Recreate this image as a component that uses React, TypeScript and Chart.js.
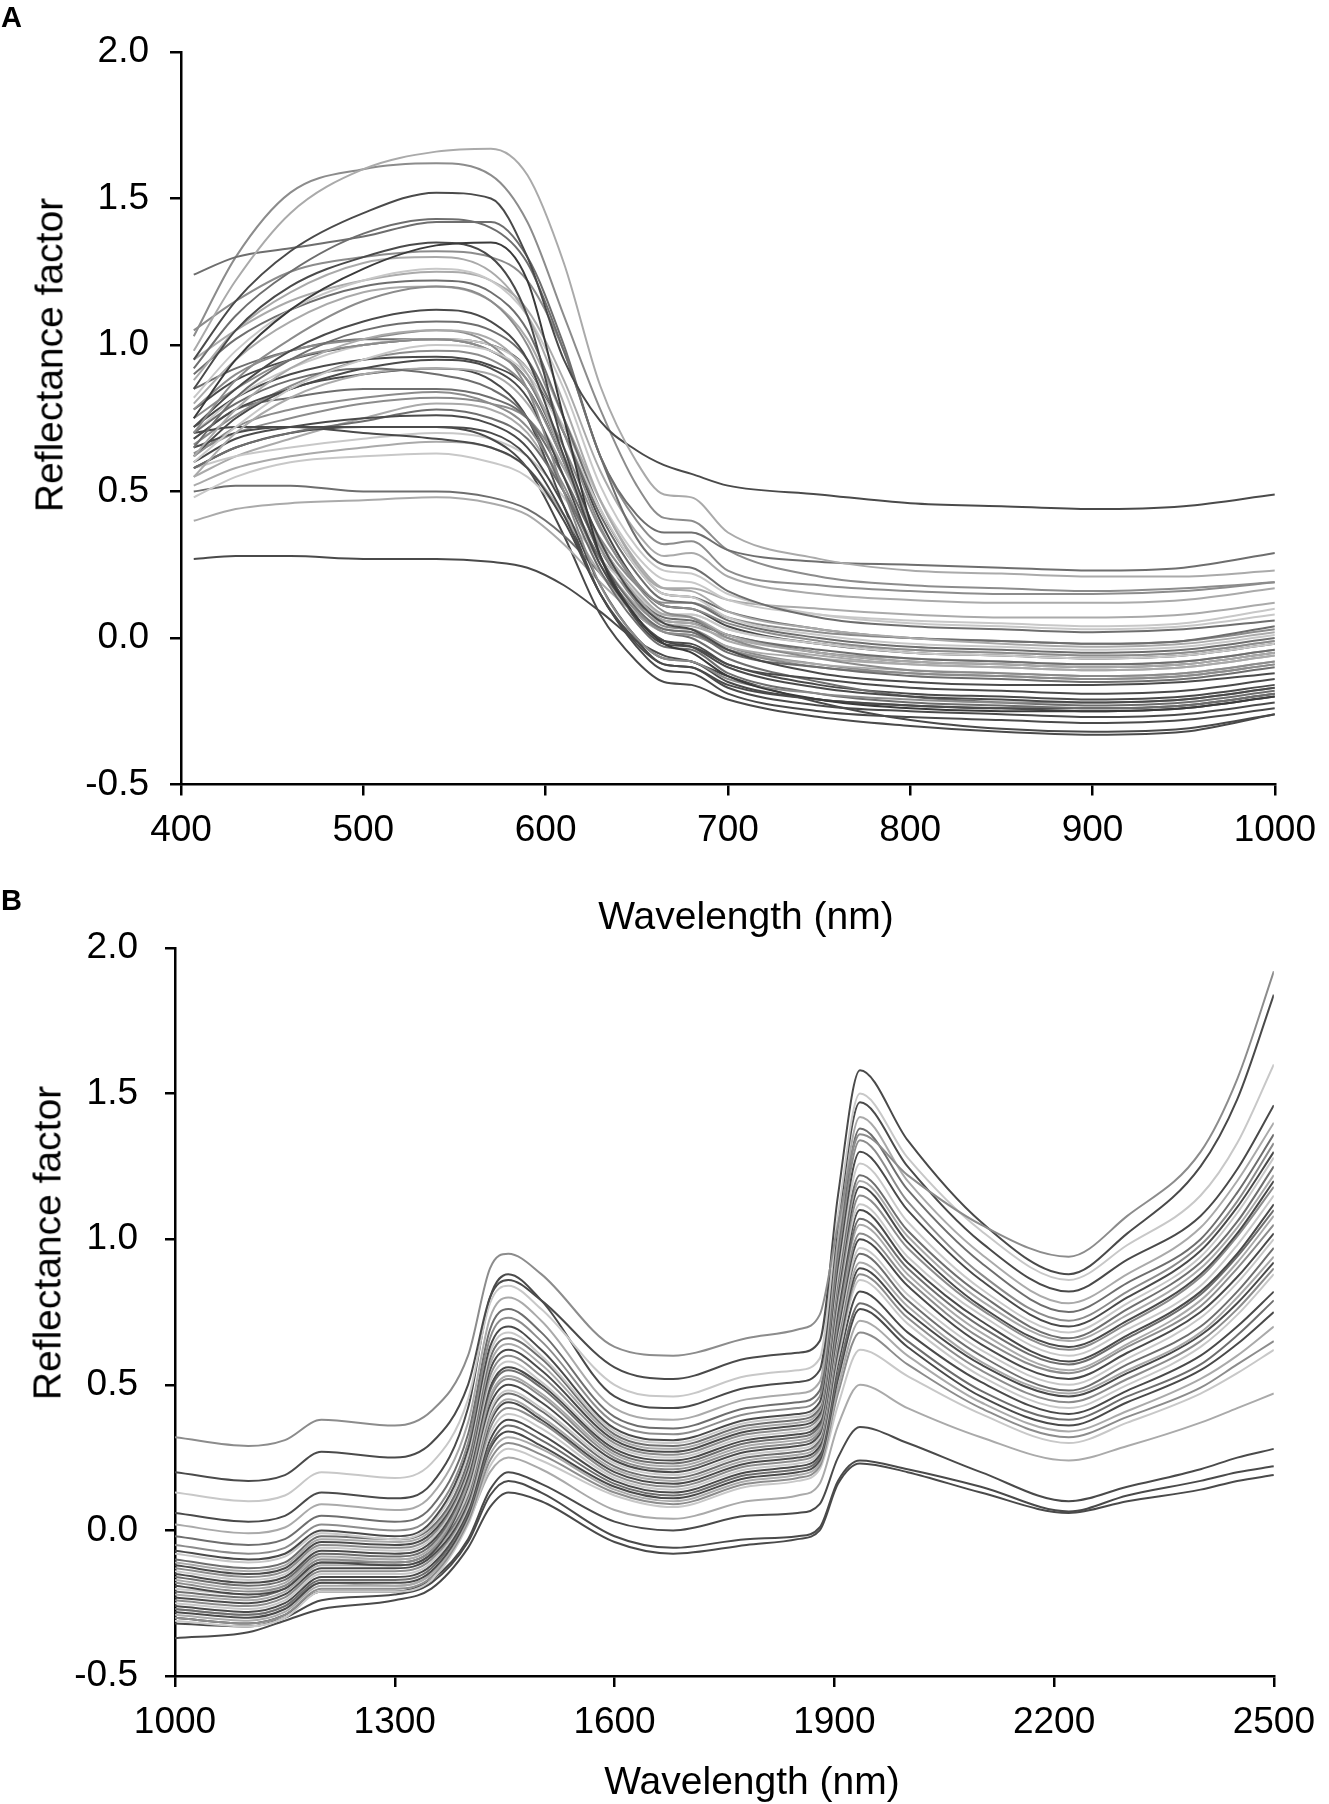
import React, { useEffect, useRef } from "react";
import { Chart, registerables } from "chart.js";

Chart.register(...registerables);

const FONT = '"Liberation Sans", Arial, Helvetica, sans-serif';

// ---------- axes / ticks ----------
const Y_TICKS = [-0.5, 0, 0.5, 1.0, 1.5, 2.0];
const X_TICKS_A = [400, 500, 600, 700, 800, 900, 1000];
const X_TICKS_B = [1000, 1300, 1600, 1900, 2200, 2500];

// ---------- wavelengths (nm) at which the spectra were read ----------
const WL_A = [407, 430, 460, 500, 540, 570, 590, 610, 630, 650, 665, 680, 700, 750, 800, 850, 900, 950, 1000];
const WL_B = [1000, 1100, 1150, 1200, 1300, 1350, 1400, 1430, 1455, 1500, 1600, 1680, 1780, 1850, 1880, 1905, 1935, 2000, 2100, 2220, 2300, 2400, 2450, 2500];

// ---------- grey levels ----------
const D = "#4a4a4a";
const M = "#6e6e6e";
const G = "#8c8c8c";
const L = "#aaaaaa";
const V = "#c8c8c8";

// ---------- panel A spectra (400–1000 nm) ----------
const a01 = [0.98, 1.22, 1.45, 1.6, 1.66, 1.67, 1.58, 1.28, 0.86, 0.6, 0.49, 0.48, 0.36, 0.27, 0.23, 0.22, 0.21, 0.21, 0.23];
const a02 = [0.95, 1.15, 1.32, 1.45, 1.52, 1.5, 1.3, 0.95, 0.74, 0.64, 0.59, 0.56, 0.52, 0.49, 0.46, 0.45, 0.44, 0.45, 0.49];
const a03 = [1.24, 1.3, 1.33, 1.37, 1.42, 1.42, 1.3, 1.0, 0.62, 0.42, 0.36, 0.36, 0.3, 0.26, 0.25, 0.24, 0.23, 0.24, 0.29];
const a04 = [1.03, 1.3, 1.52, 1.6, 1.62, 1.58, 1.42, 1.1, 0.78, 0.52, 0.41, 0.4, 0.3, 0.21, 0.18, 0.17, 0.16, 0.17, 0.19];
const a05 = [0.75, 0.95, 1.12, 1.26, 1.34, 1.35, 1.22, 0.75, 0.28, 0.07, -0.02, -0.05, -0.13, -0.21, -0.24, -0.25, -0.25, -0.24, -0.2];
const a06 = [0.85, 1.05, 1.2, 1.3, 1.35, 1.3, 1.1, 0.65, 0.33, 0.13, 0.05, 0.03, -0.04, -0.12, -0.15, -0.16, -0.16, -0.15, -0.12];
const a07 = [0.92, 1.1, 1.25, 1.38, 1.43, 1.4, 1.28, 0.98, 0.62, 0.34, 0.25, 0.24, 0.16, 0.07, 0.04, 0.03, 0.02, 0.03, 0.06];
const a08 = [0.88, 1.05, 1.18, 1.28, 1.3, 1.25, 1.1, 0.8, 0.47, 0.26, 0.17, 0.16, 0.09, 0.03, 0.0, -0.02, -0.03, -0.02, 0.02];
const a09 = [0.82, 0.98, 1.12, 1.22, 1.26, 1.22, 1.1, 0.85, 0.52, 0.31, 0.23, 0.22, 0.15, 0.08, 0.05, 0.04, 0.03, 0.04, 0.08];
const a10 = [0.7, 0.88, 1.02, 1.15, 1.2, 1.15, 1.0, 0.7, 0.38, 0.18, 0.09, 0.07, 0.0, -0.07, -0.11, -0.12, -0.13, -0.12, -0.08];
const a11 = [0.72, 0.85, 0.98, 1.08, 1.12, 1.08, 0.95, 0.62, 0.28, 0.07, -0.01, -0.03, -0.1, -0.17, -0.2, -0.21, -0.22, -0.21, -0.17];
const a12 = [0.65, 0.82, 0.95, 1.05, 1.08, 1.05, 0.95, 0.7, 0.42, 0.22, 0.13, 0.12, 0.06, 0.0, -0.03, -0.04, -0.05, -0.04, 0.0];
const a13 = [0.62, 0.78, 0.92, 1.02, 1.05, 1.02, 0.9, 0.62, 0.33, 0.14, 0.06, 0.05, -0.01, -0.06, -0.09, -0.1, -0.11, -0.1, -0.06];
const a14 = [0.6, 0.72, 0.85, 0.95, 1.0, 0.98, 0.9, 0.7, 0.44, 0.24, 0.15, 0.14, 0.07, 0.01, -0.02, -0.03, -0.04, -0.03, 0.01];
const a15 = [0.78, 0.9, 0.98, 1.02, 1.05, 1.0, 0.85, 0.5, 0.18, 0.0, -0.07, -0.08, -0.14, -0.19, -0.21, -0.22, -0.22, -0.21, -0.17];
const a16 = [0.68, 0.78, 0.85, 0.92, 0.95, 0.92, 0.82, 0.55, 0.25, 0.07, -0.01, -0.02, -0.09, -0.14, -0.17, -0.18, -0.19, -0.18, -0.14];
const a17 = [0.7, 0.8, 0.88, 0.92, 0.9, 0.85, 0.75, 0.5, 0.23, 0.05, -0.03, -0.04, -0.12, -0.19, -0.22, -0.23, -0.24, -0.23, -0.19];
const a18 = [0.55, 0.7, 0.82, 0.9, 0.92, 0.9, 0.8, 0.58, 0.32, 0.16, 0.08, 0.07, 0.01, -0.05, -0.08, -0.09, -0.1, -0.09, -0.05];
const a19 = [0.6, 0.68, 0.72, 0.75, 0.76, 0.73, 0.65, 0.45, 0.18, 0.0, -0.07, -0.08, -0.15, -0.21, -0.23, -0.24, -0.25, -0.24, -0.2];
const a20 = [0.65, 0.7, 0.72, 0.72, 0.72, 0.7, 0.62, 0.42, 0.15, -0.01, -0.09, -0.1, -0.17, -0.23, -0.25, -0.26, -0.27, -0.26, -0.22];
const a21 = [0.58, 0.65, 0.7, 0.74, 0.78, 0.75, 0.68, 0.5, 0.27, 0.1, 0.03, 0.02, -0.05, -0.1, -0.13, -0.14, -0.15, -0.14, -0.1];
const a22 = [0.62, 0.72, 0.78, 0.82, 0.84, 0.8, 0.72, 0.52, 0.25, 0.09, 0.02, 0.01, -0.04, -0.1, -0.12, -0.13, -0.14, -0.13, -0.09];
const a23 = [0.7, 0.72, 0.72, 0.7, 0.68, 0.65, 0.58, 0.4, 0.15, -0.03, -0.11, -0.12, -0.19, -0.25, -0.27, -0.28, -0.29, -0.28, -0.24];
const a24 = [0.52, 0.58, 0.62, 0.65, 0.67, 0.65, 0.58, 0.42, 0.22, 0.08, 0.02, 0.01, -0.04, -0.09, -0.11, -0.12, -0.13, -0.12, -0.08];
const a25 = [0.48, 0.55, 0.6, 0.62, 0.63, 0.6, 0.55, 0.42, 0.27, 0.15, 0.08, 0.08, 0.03, -0.02, -0.05, -0.06, -0.07, -0.06, -0.02];
const a26 = [0.4, 0.44, 0.46, 0.47, 0.48, 0.46, 0.42, 0.32, 0.19, 0.08, 0.03, 0.02, -0.03, -0.07, -0.09, -0.1, -0.11, -0.1, -0.06];
const a27 = [0.27, 0.28, 0.28, 0.27, 0.27, 0.26, 0.24, 0.18, 0.09, -0.01, -0.06, -0.08, -0.13, -0.22, -0.28, -0.31, -0.32, -0.31, -0.26];
const a28 = [0.5, 0.52, 0.52, 0.5, 0.5, 0.48, 0.44, 0.35, 0.22, 0.08, 0.02, 0.0, -0.07, -0.15, -0.2, -0.22, -0.23, -0.22, -0.18];
const a29 = [0.58, 0.65, 0.7, 0.72, 0.72, 0.68, 0.58, 0.35, 0.08, -0.08, -0.15, -0.16, -0.21, -0.27, -0.3, -0.32, -0.33, -0.32, -0.26];
const a30 = [0.75, 0.85, 0.95, 1.0, 1.02, 0.98, 0.88, 0.65, 0.37, 0.19, 0.11, 0.1, 0.05, -0.01, -0.04, -0.05, -0.06, -0.05, -0.01];
const a31 = [0.9, 1.02, 1.12, 1.2, 1.22, 1.18, 1.05, 0.75, 0.44, 0.24, 0.15, 0.14, 0.09, 0.03, 0.0, -0.01, -0.02, -0.01, 0.04];
const a32 = [0.7, 0.82, 0.92, 1.0, 1.02, 1.0, 0.92, 0.72, 0.47, 0.28, 0.2, 0.19, 0.13, 0.08, 0.06, 0.05, 0.04, 0.05, 0.1];
const a33 = [0.8, 0.95, 1.08, 1.18, 1.2, 1.15, 1.02, 0.75, 0.47, 0.25, 0.17, 0.17, 0.13, 0.1, 0.08, 0.07, 0.07, 0.08, 0.12];
const a34 = [0.66, 0.76, 0.86, 0.95, 0.98, 0.95, 0.85, 0.6, 0.31, 0.12, 0.04, 0.03, -0.03, -0.09, -0.12, -0.13, -0.14, -0.13, -0.09];
const a35 = [0.62, 0.75, 0.85, 0.9, 0.92, 0.88, 0.75, 0.45, 0.15, -0.02, -0.09, -0.1, -0.16, -0.21, -0.23, -0.24, -0.24, -0.23, -0.19];
const a36 = [0.85, 0.92, 0.98, 1.02, 1.02, 0.98, 0.88, 0.62, 0.33, 0.14, 0.07, 0.06, 0.01, -0.04, -0.07, -0.08, -0.09, -0.08, -0.04];
const a37 = [0.95, 1.05, 1.15, 1.22, 1.25, 1.22, 1.12, 0.88, 0.57, 0.36, 0.28, 0.29, 0.21, 0.15, 0.13, 0.12, 0.12, 0.13, 0.17];
const a38 = [1.05, 1.15, 1.25, 1.3, 1.32, 1.3, 1.22, 0.98, 0.62, 0.4, 0.32, 0.33, 0.23, 0.18, 0.16, 0.15, 0.15, 0.16, 0.19];
const a39 = [0.78, 0.88, 0.95, 1.0, 1.02, 1.0, 0.92, 0.7, 0.4, 0.19, 0.11, 0.1, 0.04, -0.02, -0.05, -0.06, -0.07, -0.06, -0.02];
const a40 = [0.58, 0.62, 0.65, 0.68, 0.7, 0.68, 0.62, 0.48, 0.3, 0.15, 0.08, 0.08, 0.03, -0.02, -0.04, -0.05, -0.06, -0.05, -0.01];
const a41 = [0.68, 0.78, 0.82, 0.85, 0.85, 0.82, 0.75, 0.55, 0.3, 0.13, 0.06, 0.05, 0.01, -0.05, -0.08, -0.09, -0.1, -0.09, -0.05];
const a42 = [0.72, 0.82, 0.9, 0.95, 0.96, 0.93, 0.85, 0.6, 0.28, 0.06, -0.02, -0.03, -0.09, -0.16, -0.19, -0.2, -0.21, -0.2, -0.16];
const a43 = [0.55, 0.62, 0.68, 0.75, 0.8, 0.78, 0.7, 0.5, 0.27, 0.11, 0.05, 0.04, 0.0, -0.05, -0.07, -0.08, -0.09, -0.08, -0.04];
const a44 = [0.63, 0.7, 0.75, 0.8, 0.82, 0.8, 0.75, 0.58, 0.34, 0.18, 0.12, 0.12, 0.07, 0.02, 0.0, -0.01, -0.02, -0.01, 0.03];

const SERIES_A = [a01, a02, a03, a04, a05, a06, a07, a08, a09, a10, a11, a12, a13, a14, a15, a16, a17, a18, a19, a20, a21, a22, a23, a24, a25, a26, a27, a28, a29, a30, a31, a32, a33, a34, a35, a36, a37, a38, a39, a40, a41, a42, a43, a44];
const COLORS_A = [L, D, M, G, "#3a3a3a", D, M, L, V, G, D, M, L, V, G, D, M, L, D, D, M, G, D, L, V, L, D, M, D, G, M, V, L, G, D, M, L, G, D, V, M, D, L, G];

// ---------- panel B spectra (1000–2500 nm) ----------
const b01 = [0.32, 0.29, 0.31, 0.38, 0.36, 0.41, 0.6, 0.9, 0.95, 0.88, 0.63, 0.6, 0.66, 0.69, 0.74, 1.05, 1.36, 1.22, 1.05, 0.94, 1.08, 1.3, 1.55, 1.92];
const b02 = [0.2, 0.17, 0.19, 0.27, 0.25, 0.3, 0.5, 0.8, 0.86, 0.79, 0.56, 0.52, 0.59, 0.61, 0.65, 1.15, 1.58, 1.34, 1.06, 0.88, 1.02, 1.25, 1.48, 1.84];
const b03 = [0.13, 0.1, 0.12, 0.2, 0.18, 0.23, 0.45, 0.78, 0.84, 0.76, 0.5, 0.46, 0.53, 0.55, 0.59, 1.08, 1.5, 1.28, 1.03, 0.86, 0.98, 1.15, 1.33, 1.6];
const b04 = [0.06, 0.03, 0.05, 0.13, 0.11, 0.16, 0.42, 0.8, 0.88, 0.79, 0.46, 0.42, 0.49, 0.51, 0.55, 1.05, 1.47, 1.25, 0.99, 0.82, 0.93, 1.08, 1.24, 1.46];
const b05 = [0.02, -0.01, 0.01, 0.09, 0.07, 0.12, 0.37, 0.73, 0.8, 0.72, 0.42, 0.38, 0.45, 0.47, 0.51, 1.0, 1.42, 1.2, 0.95, 0.78, 0.88, 1.04, 1.2, 1.4];
const b06 = [-0.02, -0.05, -0.03, 0.05, 0.03, 0.08, 0.33, 0.69, 0.76, 0.68, 0.39, 0.35, 0.42, 0.44, 0.48, 0.97, 1.38, 1.17, 0.92, 0.75, 0.85, 1.0, 1.16, 1.36];
const b07 = [-0.05, -0.08, -0.06, 0.02, 0.0, 0.05, 0.3, 0.66, 0.73, 0.65, 0.37, 0.33, 0.4, 0.42, 0.46, 0.94, 1.34, 1.13, 0.88, 0.72, 0.82, 0.98, 1.13, 1.33];
const b08 = [-0.07, -0.1, -0.08, 0.0, -0.02, 0.03, 0.28, 0.63, 0.7, 0.62, 0.35, 0.31, 0.38, 0.4, 0.44, 0.91, 1.3, 1.1, 0.86, 0.7, 0.8, 0.96, 1.11, 1.3];
const b09 = [-0.08, -0.11, -0.09, -0.01, -0.03, 0.02, 0.26, 0.61, 0.68, 0.6, 0.34, 0.3, 0.37, 0.39, 0.43, 0.88, 1.26, 1.06, 0.83, 0.68, 0.78, 0.94, 1.09, 1.28];
const b10 = [-0.1, -0.13, -0.11, -0.02, -0.03, 0.01, 0.24, 0.59, 0.66, 0.59, 0.33, 0.29, 0.36, 0.38, 0.42, 0.86, 1.22, 1.03, 0.81, 0.66, 0.76, 0.92, 1.06, 1.25];
const b11 = [-0.11, -0.14, -0.12, -0.03, -0.04, 0.0, 0.23, 0.57, 0.64, 0.57, 0.32, 0.28, 0.35, 0.37, 0.41, 0.84, 1.2, 1.01, 0.79, 0.65, 0.74, 0.9, 1.04, 1.22];
const b12 = [-0.12, -0.15, -0.13, -0.04, -0.05, -0.01, 0.22, 0.55, 0.62, 0.55, 0.31, 0.27, 0.34, 0.36, 0.4, 0.82, 1.18, 0.99, 0.77, 0.63, 0.72, 0.88, 1.02, 1.2];
const b13 = [-0.13, -0.16, -0.14, -0.05, -0.06, -0.02, 0.21, 0.53, 0.6, 0.53, 0.3, 0.26, 0.33, 0.35, 0.39, 0.8, 1.15, 0.97, 0.76, 0.62, 0.71, 0.87, 1.01, 1.18];
const b14 = [-0.14, -0.17, -0.15, -0.06, -0.07, -0.03, 0.2, 0.51, 0.58, 0.51, 0.29, 0.25, 0.32, 0.34, 0.38, 0.78, 1.12, 0.94, 0.74, 0.6, 0.69, 0.84, 0.98, 1.15];
const b15 = [-0.15, -0.18, -0.16, -0.07, -0.08, -0.04, 0.19, 0.49, 0.56, 0.5, 0.28, 0.24, 0.31, 0.33, 0.37, 0.76, 1.1, 0.92, 0.72, 0.58, 0.67, 0.82, 0.95, 1.12];
const b16 = [-0.16, -0.19, -0.17, -0.08, -0.09, -0.05, 0.18, 0.48, 0.55, 0.49, 0.27, 0.23, 0.3, 0.32, 0.36, 0.74, 1.07, 0.9, 0.7, 0.57, 0.66, 0.81, 0.94, 1.1];
const b17 = [-0.17, -0.2, -0.18, -0.09, -0.1, -0.06, 0.17, 0.46, 0.53, 0.47, 0.26, 0.22, 0.29, 0.31, 0.35, 0.73, 1.05, 0.88, 0.68, 0.55, 0.64, 0.79, 0.92, 1.08];
const b18 = [-0.18, -0.21, -0.19, -0.1, -0.11, -0.07, 0.16, 0.45, 0.52, 0.46, 0.25, 0.21, 0.28, 0.3, 0.34, 0.71, 1.02, 0.86, 0.66, 0.54, 0.63, 0.77, 0.9, 1.05];
const b19 = [-0.19, -0.22, -0.2, -0.11, -0.12, -0.08, 0.15, 0.43, 0.5, 0.44, 0.24, 0.2, 0.27, 0.29, 0.33, 0.69, 1.0, 0.84, 0.64, 0.52, 0.61, 0.75, 0.87, 1.02];
const b20 = [-0.2, -0.22, -0.19, -0.1, -0.1, -0.06, 0.13, 0.41, 0.48, 0.42, 0.23, 0.19, 0.26, 0.28, 0.32, 0.67, 0.97, 0.81, 0.62, 0.5, 0.59, 0.73, 0.85, 1.0];
const b21 = [-0.21, -0.23, -0.2, -0.11, -0.11, -0.07, 0.12, 0.4, 0.47, 0.41, 0.22, 0.18, 0.25, 0.27, 0.31, 0.66, 0.95, 0.79, 0.6, 0.48, 0.57, 0.7, 0.82, 0.97];
const b22 = [-0.22, -0.24, -0.21, -0.12, -0.12, -0.08, 0.11, 0.38, 0.45, 0.39, 0.21, 0.17, 0.24, 0.26, 0.3, 0.64, 0.92, 0.77, 0.58, 0.47, 0.55, 0.68, 0.8, 0.94];
const b23 = [-0.23, -0.25, -0.22, -0.13, -0.13, -0.09, 0.1, 0.37, 0.44, 0.38, 0.2, 0.16, 0.23, 0.25, 0.29, 0.62, 0.9, 0.75, 0.57, 0.46, 0.54, 0.67, 0.78, 0.92];
const b24 = [-0.24, -0.26, -0.23, -0.14, -0.14, -0.1, 0.09, 0.35, 0.42, 0.37, 0.19, 0.15, 0.22, 0.24, 0.28, 0.61, 0.88, 0.73, 0.55, 0.44, 0.52, 0.65, 0.76, 0.9];
const b25 = [-0.25, -0.27, -0.24, -0.15, -0.15, -0.11, 0.08, 0.33, 0.4, 0.35, 0.18, 0.14, 0.21, 0.23, 0.27, 0.59, 0.86, 0.71, 0.53, 0.42, 0.5, 0.63, 0.74, 0.88];
const b26 = [-0.26, -0.28, -0.25, -0.16, -0.16, -0.12, 0.07, 0.31, 0.38, 0.33, 0.17, 0.13, 0.2, 0.22, 0.26, 0.57, 0.82, 0.68, 0.51, 0.4, 0.48, 0.6, 0.7, 0.82];
const b27 = [-0.27, -0.29, -0.26, -0.17, -0.17, -0.13, 0.06, 0.29, 0.36, 0.31, 0.16, 0.12, 0.19, 0.21, 0.25, 0.54, 0.78, 0.65, 0.48, 0.38, 0.46, 0.57, 0.67, 0.79];
const b28 = [-0.28, -0.3, -0.27, -0.18, -0.18, -0.14, 0.05, 0.28, 0.34, 0.29, 0.15, 0.11, 0.18, 0.2, 0.24, 0.52, 0.76, 0.63, 0.46, 0.36, 0.44, 0.55, 0.64, 0.75];
const b29 = [-0.29, -0.31, -0.28, -0.19, -0.19, -0.15, 0.04, 0.26, 0.32, 0.28, 0.14, 0.1, 0.17, 0.19, 0.23, 0.49, 0.72, 0.6, 0.44, 0.34, 0.41, 0.52, 0.6, 0.7];
const b30 = [-0.3, -0.32, -0.29, -0.2, -0.2, -0.16, 0.03, 0.24, 0.3, 0.26, 0.13, 0.09, 0.16, 0.18, 0.22, 0.47, 0.68, 0.57, 0.42, 0.32, 0.39, 0.49, 0.57, 0.65];
const b31 = [-0.31, -0.33, -0.3, -0.21, -0.21, -0.17, 0.02, 0.22, 0.28, 0.24, 0.12, 0.08, 0.15, 0.17, 0.21, 0.43, 0.62, 0.53, 0.4, 0.3, 0.37, 0.47, 0.54, 0.62];
const b32 = [-0.27, -0.29, -0.26, -0.18, -0.19, -0.15, 0.03, 0.2, 0.25, 0.21, 0.07, 0.04, 0.1, 0.12, 0.16, 0.36, 0.5, 0.42, 0.32, 0.24, 0.29, 0.37, 0.42, 0.47];
const b33 = [-0.3, -0.32, -0.29, -0.21, -0.21, -0.17, -0.03, 0.14, 0.2, 0.16, 0.03, 0.0, 0.05, 0.06, 0.09, 0.25, 0.355, 0.3, 0.2, 0.1, 0.15, 0.21, 0.25, 0.28];
const b34 = [-0.32, -0.33, -0.3, -0.24, -0.22, -0.18, -0.04, 0.12, 0.17, 0.13, -0.02, -0.06, -0.03, -0.02, 0.01, 0.17, 0.24, 0.21, 0.15, 0.065, 0.12, 0.17, 0.2, 0.22];
const b35 = [-0.37, -0.35, -0.31, -0.27, -0.24, -0.2, -0.06, 0.08, 0.13, 0.1, -0.04, -0.08, -0.05, -0.03, 0.0, 0.16, 0.23, 0.2, 0.13, 0.06, 0.1, 0.14, 0.17, 0.19];

const SERIES_B = [b01, b02, b03, b04, b05, b06, b07, b08, b09, b10, b11, b12, b13, b14, b15, b16, b17, b18, b19, b20, b21, b22, b23, b24, b25, b26, b27, b28, b29, b30, b31, b32, b33, b34, b35];
const COLORS_B = [G, D, V, D, L, M, G, D, V, M, L, D, G, V, D, M, L, G, D, V, M, L, D, G, V, D, M, D, L, G, V, L, D, D, D];

type Lay = {
  yW: number;
  right: number;
  top: number;
  xH: number;
  yPad: number;
  xPad: number;
  yTick: number;
  xTick: number;
};

function makeChart(
  canvas: HTMLCanvasElement,
  wl: number[],
  series: number[][],
  colors: string[],
  xTicks: number[],
  lay: Lay
) {
  return new Chart(canvas, {
    type: "line",
    data: {
      datasets: series.map((s, i) => ({
        data: s.map((y, j) => ({ x: wl[j], y })),
        borderColor: colors[i],
        borderWidth: 2,
        pointRadius: 0,
        fill: false,
        cubicInterpolationMode: "monotone" as const,
      })),
    },
    options: {
      animation: false,
      responsive: false,
      events: [],
      layout: { padding: { left: 0, right: lay.right, top: lay.top, bottom: 0 } },
      plugins: {
        legend: { display: false },
        tooltip: { enabled: false },
        title: { display: false },
      },
      scales: {
        x: {
          type: "linear",
          min: xTicks[0],
          max: xTicks[xTicks.length - 1],
          afterBuildTicks: (s: any) => {
            s.ticks = xTicks.map((v) => ({ value: v }));
          },
          afterFit: (s: any) => {
            s.height = lay.xH;
          },
          grid: {
            drawOnChartArea: false,
            drawTicks: true,
            tickLength: lay.xTick,
            color: "#000",
            lineWidth: 2.5,
          },
          border: { display: true, color: "#000", width: 2.5 },
          ticks: {
            color: "#000",
            font: { family: FONT, size: 37 },
            padding: lay.xPad,
            maxRotation: 0,
            autoSkip: false,
            callback: (v: any) => String(v),
          },
        },
        y: {
          type: "linear",
          min: -0.5,
          max: 2.0,
          afterBuildTicks: (s: any) => {
            s.ticks = Y_TICKS.map((v) => ({ value: v }));
          },
          afterFit: (s: any) => {
            s.width = lay.yW;
          },
          grid: {
            drawOnChartArea: false,
            drawTicks: true,
            tickLength: lay.yTick,
            color: "#000",
            lineWidth: 2.5,
          },
          border: { display: true, color: "#000", width: 2.5 },
          ticks: {
            color: "#000",
            font: { family: FONT, size: 37 },
            padding: lay.yPad,
            autoSkip: false,
            callback: (v: any) => Number(v).toFixed(1),
          },
        },
      },
    },
  } as any);
}

const textBase: React.CSSProperties = {
  position: "absolute",
  fontFamily: FONT,
  color: "#000",
  lineHeight: 1,
  whiteSpace: "nowrap",
};

export default function App() {
  const refA = useRef<HTMLCanvasElement | null>(null);
  const refB = useRef<HTMLCanvasElement | null>(null);

  useEffect(() => {
    document.body.style.margin = "0";
    const cA = makeChart(refA.current!, WL_A, SERIES_A, COLORS_A, X_TICKS_A, {
      yW: 181,
      right: 44,
      top: 52,
      xH: 960 - 784.5,
      yPad: 21,
      xPad: 13,
      yTick: 11,
      xTick: 11,
    });
    const cB = makeChart(refB.current!, WL_B, SERIES_B, COLORS_B, X_TICKS_B, {
      yW: 175,
      right: 49,
      top: 68,
      xH: 924 - 796,
      yPad: 27,
      xPad: 14,
      yTick: 10,
      xTick: 11,
    });
    return () => {
      cA.destroy();
      cB.destroy();
    };
  }, []);

  return (
    <div style={{ position: "absolute", left: 0, top: 0, width: 1329, height: 1804, background: "#fff", overflow: "hidden" }}>
      <canvas
        ref={refA}
        width={1329}
        height={960}
        style={{ position: "absolute", left: 0, top: 0, width: 1329, height: 960 }}
      />
      <canvas
        ref={refB}
        width={1329}
        height={924}
        style={{ position: "absolute", left: 0, top: 880, width: 1329, height: 924 }}
      />
      <div style={{ ...textBase, left: 1, top: 3, fontSize: 29, fontWeight: 700 }}>A</div>
      <div style={{ ...textBase, left: 1, top: 886, fontSize: 29, fontWeight: 700 }}>B</div>
      <div style={{ ...textBase, left: 49, top: 355, fontSize: 39, transform: "translate(-50%, -50%) rotate(-90deg)" }}>
        Reflectance factor
      </div>
      <div style={{ ...textBase, left: 746, top: 915, fontSize: 39, transform: "translate(-50%, -50%)" }}>
        Wavelength (nm)
      </div>
      <div style={{ ...textBase, left: 47, top: 1243, fontSize: 39, transform: "translate(-50%, -50%) rotate(-90deg)" }}>
        Reflectance factor
      </div>
      <div style={{ ...textBase, left: 752, top: 1780, fontSize: 39, transform: "translate(-50%, -50%)" }}>
        Wavelength (nm)
      </div>
    </div>
  );
}
